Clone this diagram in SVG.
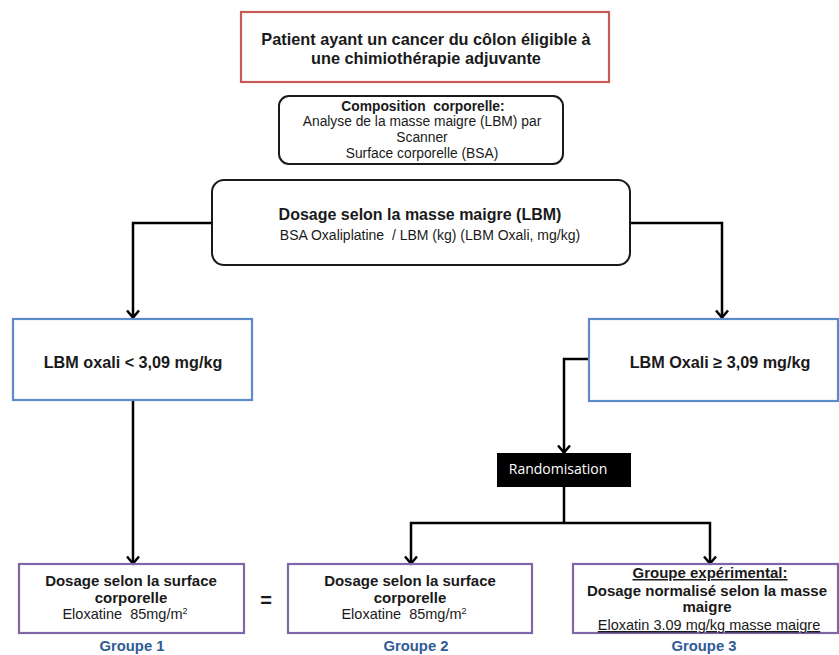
<svg xmlns="http://www.w3.org/2000/svg" width="839" height="655" viewBox="0 0 839 655">
<style>
text{font-family:"Liberation Sans",Arial,sans-serif;fill:#1a1a1a;text-anchor:middle}
.b{font-weight:bold}
.blue{fill:none;stroke:#5b8cc9;stroke-width:2.2}
.purple{fill:none;stroke:#8066a8;stroke-width:2.2}
.round{fill:#fff;stroke:#1a1a1a;stroke-width:2}
.con{fill:none;stroke:#000;stroke-width:2.5;marker-end:url(#arr)}
.grp{fill:#2f5b96;font-weight:bold;font-size:14.8px}
</style>
<defs>
<marker id="arr" markerUnits="userSpaceOnUse" markerWidth="14" markerHeight="14" refX="12.5" refY="7" orient="auto" viewBox="0 0 14 14">
<path d="M5,1 L12,7 L5,13" fill="none" stroke="#000" stroke-width="2.5"/>
</marker>
</defs>
<rect width="839" height="655" fill="#fff"/>
<g id="connectors">
<path class="con" d="M211,223 H133 V318"/>
<path class="con" d="M630,223 H722 V318"/>
<path class="con" d="M589,359 H564 V453"/>
<path class="con" d="M133,401 V564"/>
<path fill="none" stroke="#000" stroke-width="2.5" d="M564,487 V523"/>
<path class="con" d="M564,523 H411 V564"/>
<path class="con" d="M564,523 H710 V564"/>
</g>
<g id="patient">
<rect x="241" y="12" width="368" height="70" fill="#fff" stroke="#c55a57" stroke-width="2.2"/>
<text class="b" x="426" y="45" font-size="16.3">Patient ayant un cancer du côlon éligible à</text>
<text class="b" x="426" y="64" font-size="16.3">une chimiothérapie adjuvante</text>
</g>
<g id="composition">
<rect class="round" x="279" y="96" width="284" height="68" rx="10"/>
<text class="b" x="423" y="111" font-size="13.8" xml:space="preserve">Composition  corporelle:</text>
<text x="422" y="126" font-size="13.8">Analyse de la masse maigre (LBM) par</text>
<text x="422" y="142" font-size="13.8">Scanner</text>
<text x="422" y="158" font-size="13.8">Surface corporelle (BSA)</text>
</g>
<g id="dosage">
<rect class="round" x="212" y="180" width="418" height="85" rx="12"/>
<text class="b" x="420" y="220" font-size="16">Dosage selon la masse maigre (LBM)</text>
<text x="430" y="240" font-size="14" xml:space="preserve">BSA Oxaliplatine  / LBM (kg) (LBM Oxali, mg/kg)</text>
</g>
<g id="lbm-low">
<rect class="blue" x="13" y="319" width="239" height="81" fill="#fff"/>
<text class="b" x="133" y="368" font-size="16.2">LBM oxali &lt; 3,09 mg/kg</text>
</g>
<g id="lbm-high">
<rect class="blue" x="589" y="319" width="249" height="82"/>
<text class="b" x="720" y="368" font-size="16.2">LBM Oxali ≥ 3,09 mg/kg</text>
</g>
<g id="randomisation">
<rect x="497" y="453" width="134" height="34" fill="#000"/>
<text x="558" y="474" font-size="14" style="fill:#fff;font-family:'Open Sans','Liberation Sans',sans-serif">Randomisation</text>
</g>
<g id="groupe1">
<rect class="purple" x="19" y="564" width="225" height="69"/>
<text class="b" x="131" y="586" font-size="15">Dosage selon la surface</text>
<text class="b" x="131" y="603" font-size="15">corporelle</text>
<text x="125" y="619" font-size="14.5" xml:space="preserve">Eloxatine  85mg/m<tspan font-size="9" dy="-5">2</tspan></text>
<text class="grp" x="132" y="651">Groupe 1</text>
</g>
<text class="b" x="266" y="607" font-size="20">=</text>
<g id="groupe2">
<rect class="purple" x="288" y="564" width="244" height="69"/>
<text class="b" x="410" y="586" font-size="15">Dosage selon la surface</text>
<text class="b" x="410" y="603" font-size="15">corporelle</text>
<text x="404" y="619" font-size="14.5" xml:space="preserve">Eloxatine  85mg/m<tspan font-size="9" dy="-5">2</tspan></text>
<text class="grp" x="416" y="651">Groupe 2</text>
</g>
<g id="groupe3">
<rect class="purple" x="573" y="564" width="265" height="69"/>
<text class="b" x="710" y="578" font-size="15" text-decoration="underline">Groupe expérimental:</text>
<text class="b" x="707" y="596" font-size="15">Dosage normalisé selon la masse</text>
<text class="b" x="707" y="612" font-size="15">maigre</text>
<text x="709" y="630" font-size="14.5" text-decoration="underline">Eloxatin  3.09 mg/kg  masse maigre</text>
<text class="grp" x="704" y="651">Groupe 3</text>
</g>
</svg>
